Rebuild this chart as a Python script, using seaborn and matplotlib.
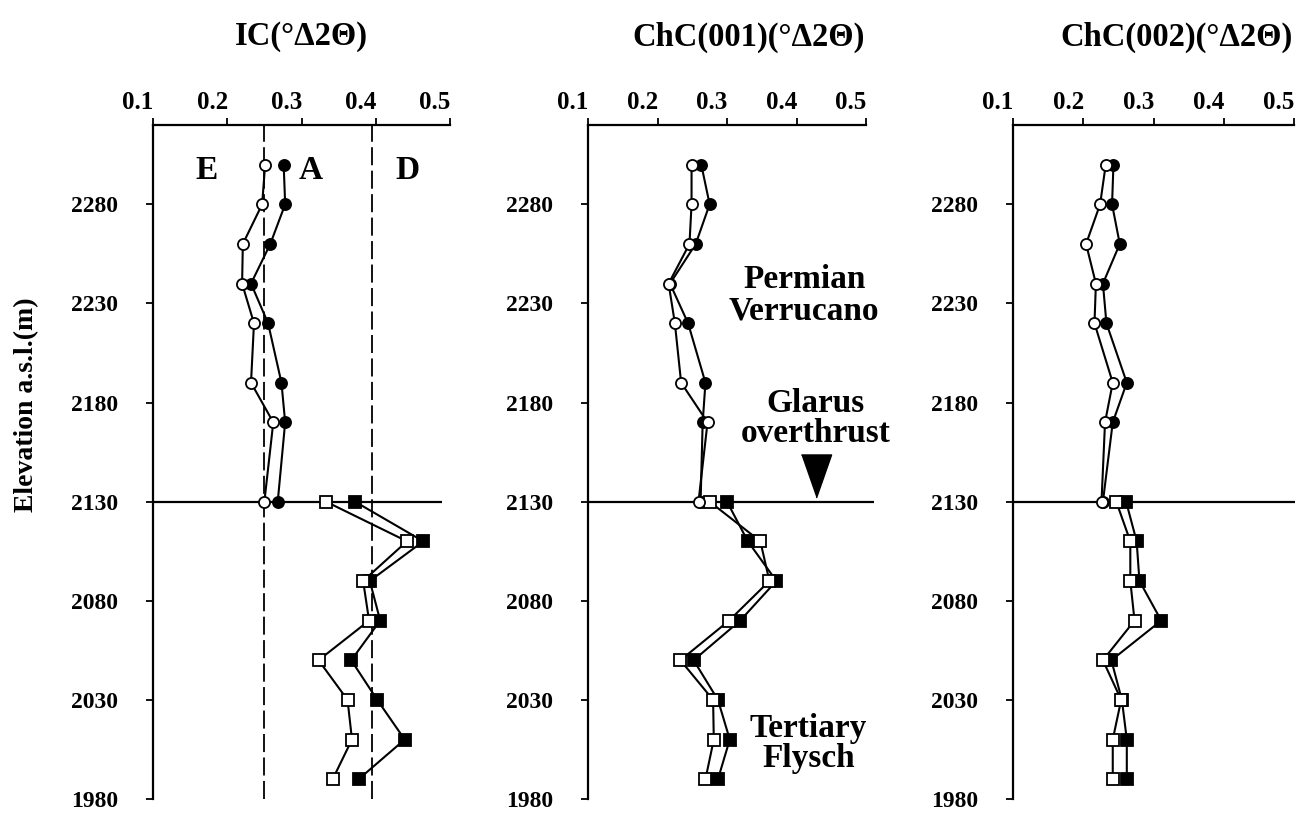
import matplotlib
matplotlib.use("Agg")
import matplotlib.pyplot as plt
import seaborn as sns
from matplotlib.transforms import ScaledTranslation

# ---------------- data ----------------
elev_circles = [2300, 2280, 2260, 2240, 2220, 2190, 2170, 2130]   # Permian Verrucano
elev_squares = [2130, 2110, 2090, 2070, 2050, 2030, 2010, 1990]   # Tertiary Flysch

ic_circ_open = [0.251, 0.247, 0.221, 0.220, 0.236, 0.232, 0.262, 0.250]
ic_circ_fill = [0.276, 0.278, 0.258, 0.232, 0.255, 0.273, 0.278, 0.268]
ic_sq_open = [0.333, 0.442, 0.383, 0.391, 0.323, 0.362, 0.368, 0.342]
ic_sq_fill = [0.372, 0.464, 0.392, 0.406, 0.367, 0.402, 0.439, 0.377]

c1_circ_open = [0.249, 0.249, 0.246, 0.216, 0.225, 0.234, 0.272, 0.259]
c1_circ_fill = [0.263, 0.275, 0.255, 0.218, 0.244, 0.269, 0.265, 0.262]
c1_sq_open = [0.275, 0.348, 0.361, 0.303, 0.233, 0.280, 0.281, 0.269]
c1_sq_fill = [0.300, 0.330, 0.371, 0.319, 0.252, 0.287, 0.304, 0.287]

c2_circ_open = [0.232, 0.224, 0.204, 0.218, 0.216, 0.242, 0.231, 0.226]
c2_circ_fill = [0.243, 0.241, 0.252, 0.228, 0.233, 0.262, 0.242, 0.228]
c2_sq_open = [0.247, 0.267, 0.267, 0.273, 0.228, 0.254, 0.242, 0.242]
c2_sq_fill = [0.261, 0.276, 0.280, 0.311, 0.240, 0.255, 0.262, 0.262]

titles = ["IC(°Δ2Θ)", "ChC(001)(°Δ2Θ)", "ChC(002)(°Δ2Θ)"]
x_ticks = [0.1, 0.2, 0.3, 0.4, 0.5]
x_tick_labels = ["0.1", "0.2", "0.3", "0.4", "0.5"]
y_ticks = [1980, 2030, 2080, 2130, 2180, 2230, 2280]
y_tick_labels = ["1980", "2030", "2080", "2130", "2180", "2230", "2280"]
thrust_elev = 2130
zone_limits = [0.25, 0.395]          # E/A and A/D boundaries (IC panel)
zone_labels = ["E", "A", "D"]
ylabel = "Elevation a.s.l.(m)"

# ---------------- style ----------------
sns.set_style("white")
plt.rcParams["font.family"] = ["Liberation Serif", "DejaVu Serif"]
plt.rcParams["font.weight"] = "bold"
plt.rcParams["text.color"] = "black"
plt.rcParams["axes.labelcolor"] = "black"
plt.rcParams["xtick.color"] = "black"
plt.rcParams["ytick.color"] = "black"

W, H = 1297, 813
fig = plt.figure(figsize=(W / 100, H / 100), dpi=100)


def add_ax(x0, x1, y0=125, y1=799):
    return fig.add_axes([x0 / W, 1 - y1 / H, (x1 - x0) / W, (y1 - y0) / H])


axes = [add_ax(153, 450), add_ax(588, 866), add_ax(1013, 1294)]
title_centers = [301, 749, 1176]
line_ends = [0.489, 0.511, 0.502]

panels = [
    (ic_circ_fill, ic_circ_open, ic_sq_fill, ic_sq_open),
    (c1_circ_fill, c1_circ_open, c1_sq_fill, c1_sq_open),
    (c2_circ_fill, c2_circ_open, c2_sq_fill, c2_sq_open),
]


def series(ax, xv, yv, marker, filled, z):
    sns.lineplot(x=xv, y=yv, orient="y", sort=False, estimator=None,
                 errorbar=None, ax=ax, color="black", lw=1.5,
                 marker=marker, markersize=8.2 if marker == "s" else 8,
                 markerfacecolor="black" if filled else "white",
                 markeredgecolor="black", markeredgewidth=1.3, zorder=z)


for i, ax in enumerate(axes):
    cf, co, sf, so = panels[i]
    ax.hlines(thrust_elev, 0.1, line_ends[i], color="black", lw=1.6,
              clip_on=False, zorder=2)
    series(ax, sf, elev_squares, "s", True, 3)
    series(ax, so, elev_squares, "s", False, 4)
    series(ax, cf, elev_circles, "o", True, 3)
    series(ax, co, elev_circles, "o", False, 4)

    ax.set_xlim(0.1, 0.5)
    ax.set_ylim(1980, 2320)
    ax.set_xlabel("")
    ax.set_ylabel("")
    ax.xaxis.tick_top()
    ax.set_xticks(x_ticks)
    ax.set_xticklabels(x_tick_labels, fontsize=18, fontweight="bold")
    ax.set_yticks(y_ticks)
    ax.set_yticklabels(y_tick_labels, fontsize=17, fontweight="bold")
    ax.tick_params(axis="x", direction="out", length=5, width=1.3, pad=3,
                   top=True, bottom=False, colors="black")
    ax.tick_params(axis="y", direction="out", length=5, width=1.3, pad=20,
                   left=True, right=False, colors="black")
    for s in ["right", "bottom"]:
        ax.spines[s].set_visible(False)
    for s in ["top", "left"]:
        ax.spines[s].set_linewidth(1.6)
        ax.spines[s].set_color("black")
    shift = ScaledTranslation(-15 / 100, 0, fig.dpi_scale_trans)
    for lab in ax.get_xticklabels():
        lab.set_transform(lab.get_transform() + shift)
    fig.text(title_centers[i] / W, 1 - 37 / H, titles[i], ha="center",
             va="center", fontsize=23.5, fontweight="bold", color="black")

# IC panel: metamorphic zone boundaries
ax0 = axes[0]
for v in zone_limits:
    ax0.vlines(v, 1980, 2320, color="black", lw=1.3,
               linestyles=(0, (10, 3)), zorder=1)
for lab, xv in zip(zone_labels, [0.172, 0.313, 0.443]):
    ax0.text(xv, 2297, lab, ha="center", va="center", fontsize=24,
             fontweight="bold", color="black")

# ChC(001) panel annotations
ax1 = axes[1]
ax1.text(0.411, 2234, "Permian\nVerrucano", ha="center", va="center",
         fontsize=24, fontweight="bold", linespacing=1.0, color="black")
ax1.text(0.428, 2172, "Glarus\noverthrust", ha="center", va="center",
         fontsize=24, fontweight="bold", linespacing=0.95, color="black")
ax1.plot([0.428], [2143], marker=[(-0.7, 1), (0.7, 1), (0, -1)],
         markersize=31, color="black", ls="none", clip_on=False)
ax1.text(0.417, 2008, "Tertiary\nFlysch", ha="center", va="center",
         fontsize=24, fontweight="bold", linespacing=0.95, color="black")

fig.text(27 / W, 1 - 405 / H, ylabel, rotation=90, ha="center", va="center",
         fontsize=20, fontweight="bold", color="black")

fig.savefig("out.png", dpi=100)
